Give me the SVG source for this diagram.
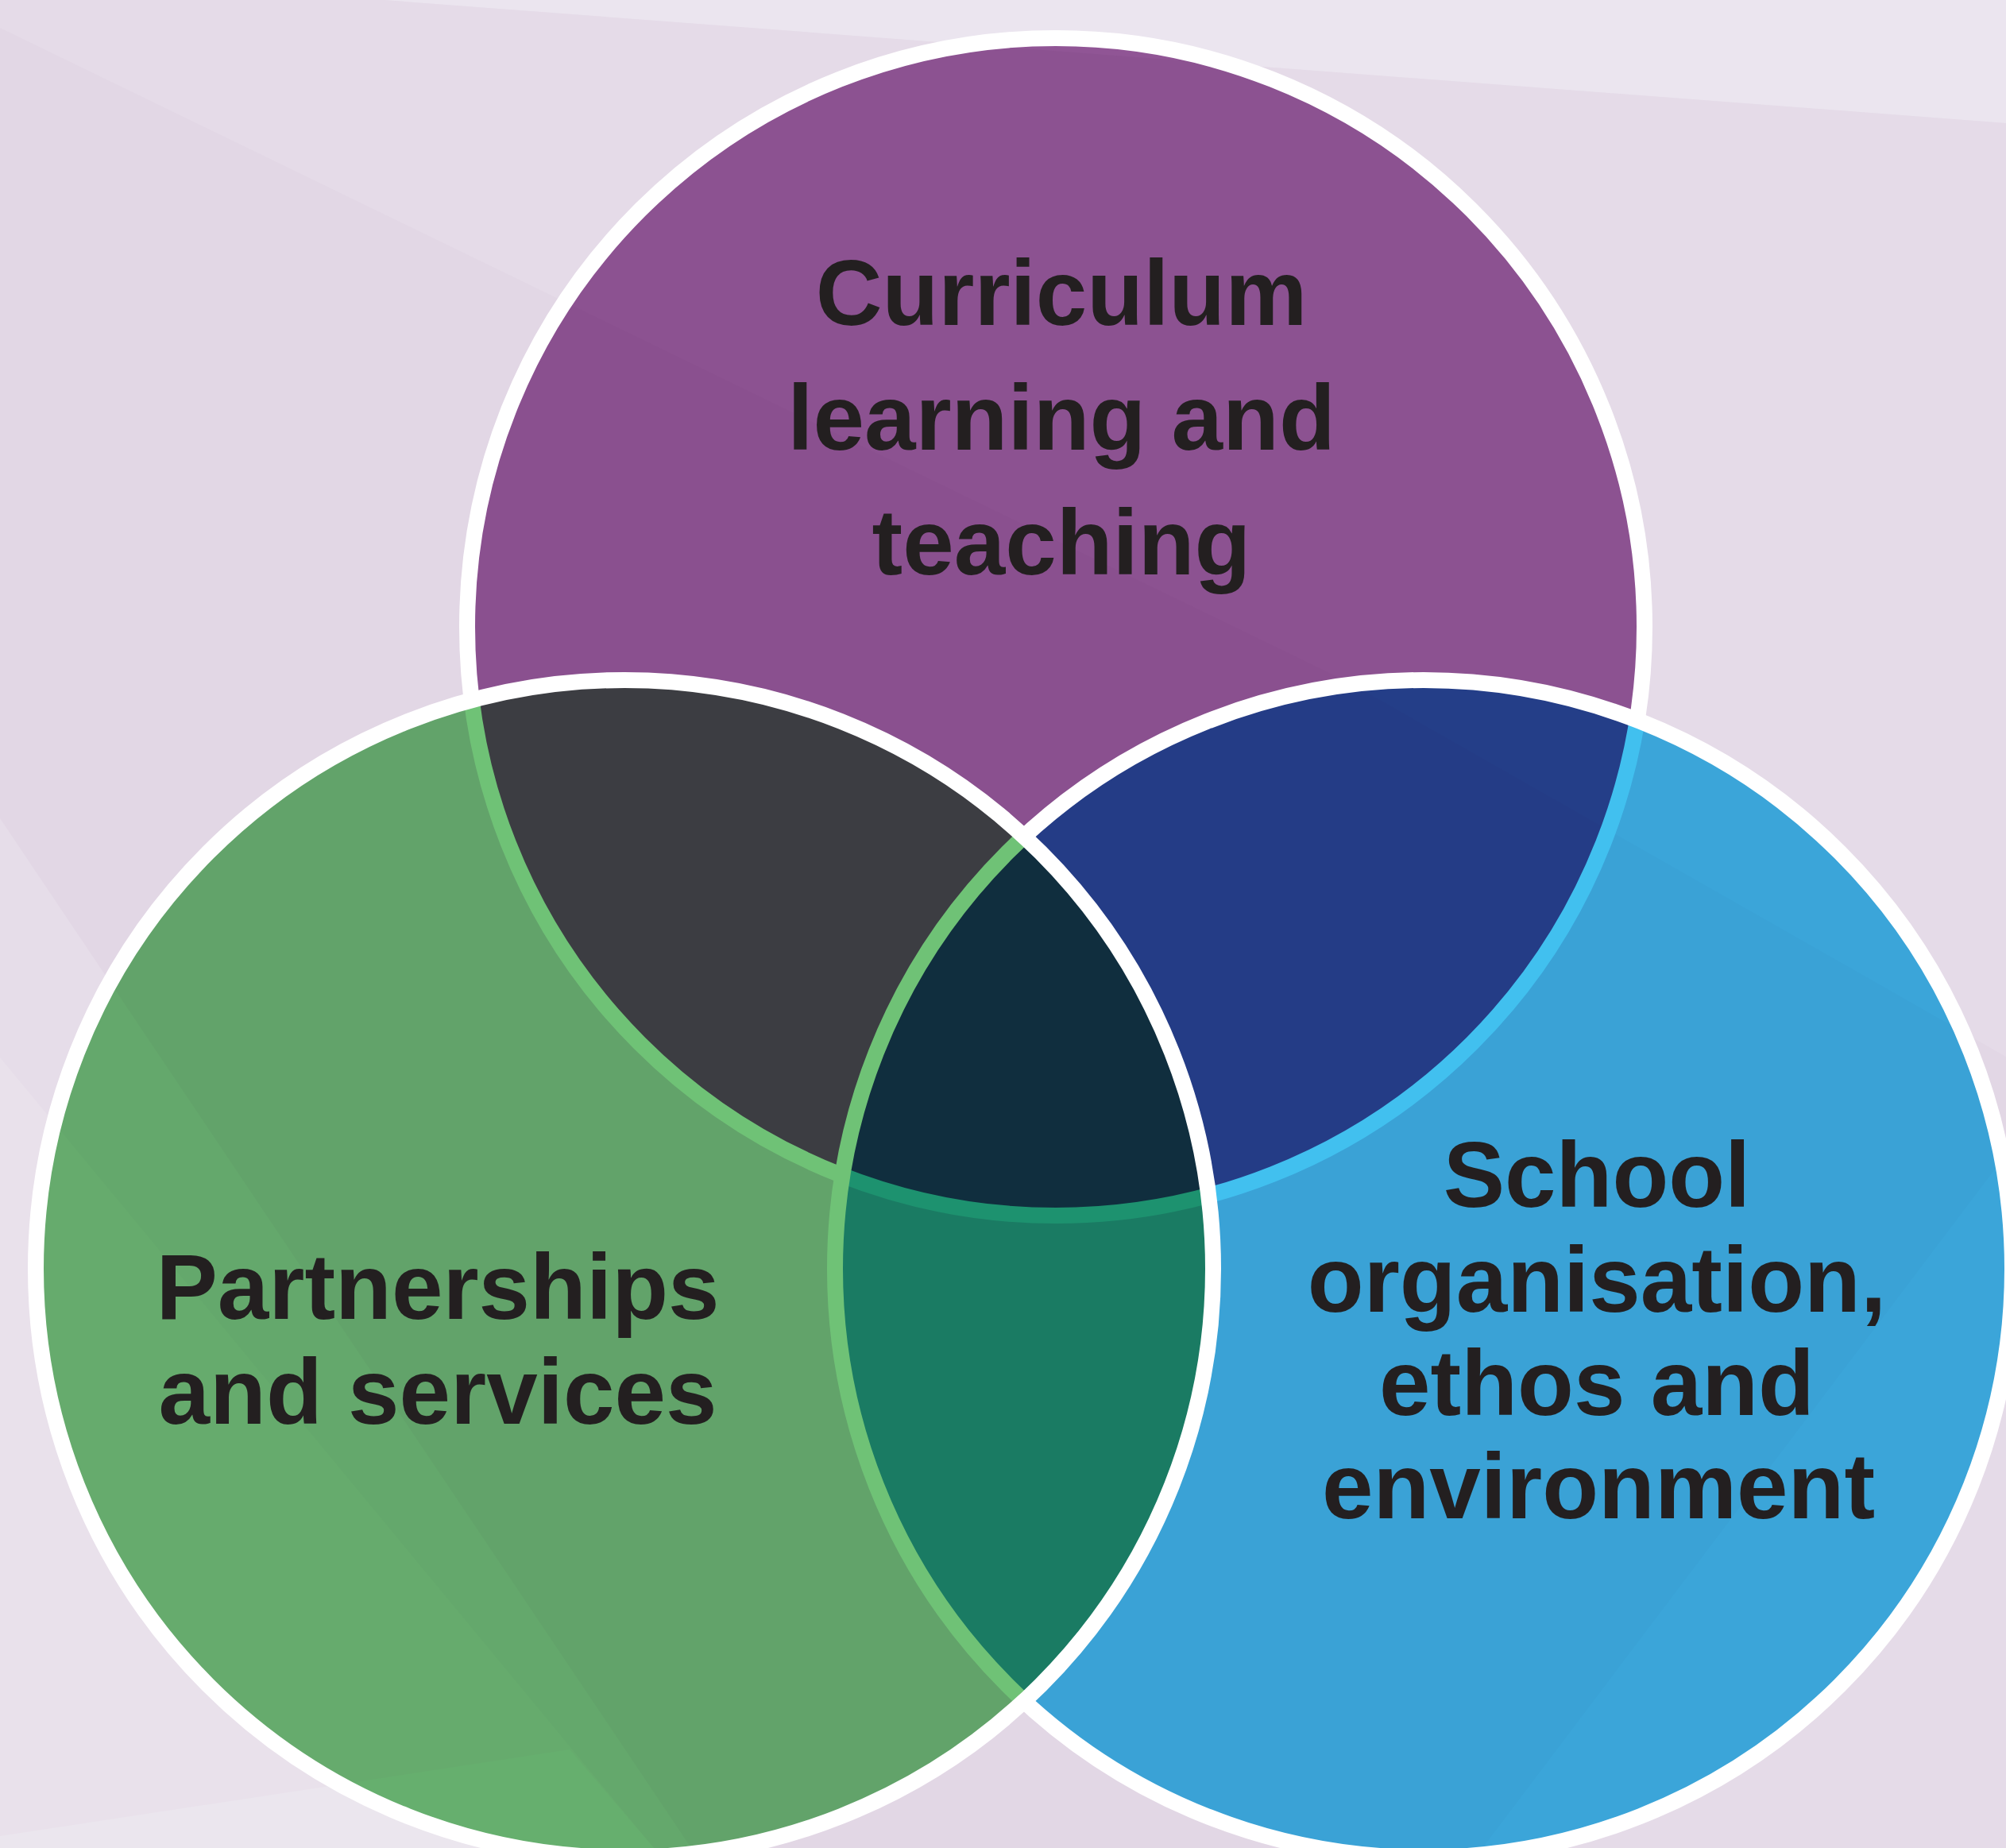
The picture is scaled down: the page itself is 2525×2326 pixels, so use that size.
<svg xmlns="http://www.w3.org/2000/svg" width="2525" height="2326" viewBox="0 0 2525 2326">
  <style>
    .fill { mix-blend-mode: multiply; stroke: none; }
    .ring { fill: none; stroke: #ffffff; stroke-width: 20; }
    .label { font-family: "Liberation Sans", Arial, sans-serif; font-weight: bold; font-size: 116px; fill: #231f20; text-anchor: middle; }
  </style>
  <g id="background">
    <rect x="0" y="0" width="2525" height="2326" fill="#e2d7e5"/>
    <polygon points="0,0 483,0 2525,155 2525,1330 1700,860 0,35" fill="#e5dbe8"/>
    <polygon points="483,0 2525,0 2525,155" fill="#ebe5ef"/>
    <polygon points="0,1030 0,2326 870,2326" fill="#e6dde9"/>
    <polygon points="0,1331 0,2326 823,2326" fill="#e9e1eb"/>
    <polygon points="0,2311 717,2202 823,2326 0,2326" fill="#ebe6ee"/>
    <polygon points="2525,1453 1866,2326 2525,2326" fill="#e5dbe8"/>
  </g>
  <g id="node-curriculum">
    <circle class="fill" cx="1329" cy="789" r="741" fill="#9c5f9f"/>
    <circle class="ring" cx="1329" cy="789" r="741"/>
    <text class="label" x="1336" y="409">Curriculum</text>
    <text class="label" x="1336" y="566">learning and</text>
    <text class="label" x="1336" y="723">teaching</text>
  </g>
  <g id="node-school">
    <circle class="fill" cx="1792" cy="1597" r="741" fill="#41c0ef"/>
    <circle class="ring" cx="1792" cy="1597" r="741"/>
    <text class="label" x="2010" y="1519">School</text>
    <text class="label" x="2010" y="1651">organisation,</text>
    <text class="label" x="2010" y="1781">ethos and</text>
    <text class="label" x="2012" y="1911">environment</text>
  </g>
  <g id="node-partnerships">
    <circle class="fill" cx="786" cy="1597" r="741" fill="#6fc276"/>
    <circle class="ring" cx="786" cy="1597" r="741"/>
    <text class="label" x="551" y="1660">Partnerships</text>
    <text class="label" x="551" y="1792">and services</text>
  </g>
</svg>
